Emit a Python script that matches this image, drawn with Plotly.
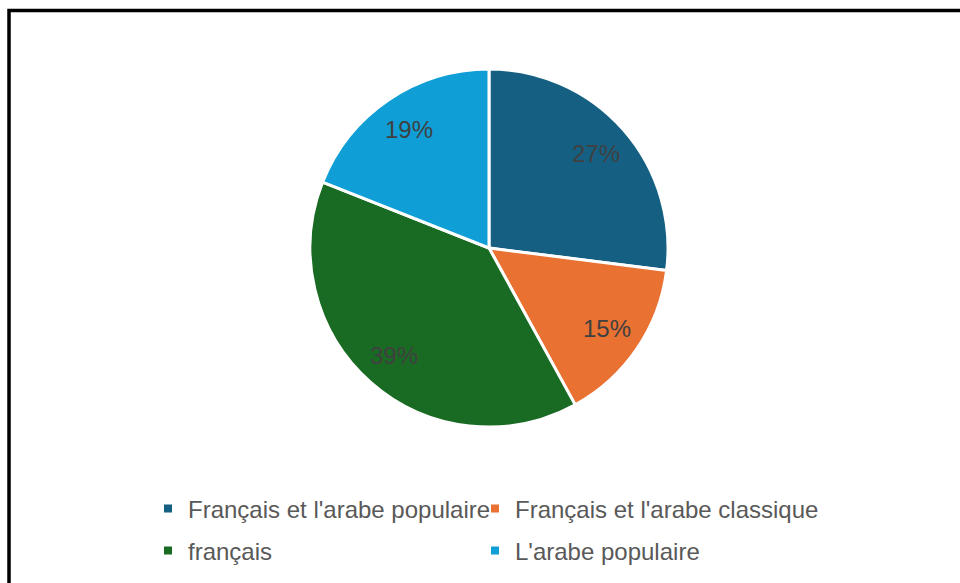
import math
import plotly.graph_objects as go

categories = ["Français et l'arabe populaire", "Français et l'arabe classique", "français", "L'arabe populaire"]
values = [27, 15, 39, 19]
colors = ["#156082", "#E97132", "#196B24", "#0F9ED5"]

W, H = 960, 583
cx, cy, r = 489, 248, 179
label_frac = 0.8
FONT = "Liberation Sans, Arial"

fig = go.Figure()
fig.add_trace(go.Pie(
    labels=categories, values=values, sort=False, direction="clockwise", rotation=0,
    marker=dict(colors=colors, line=dict(color="white", width=3)),
    textinfo="none", showlegend=False, hoverinfo="label+percent",
    domain=dict(x=[(cx - r) / W, (cx + r) / W], y=[1 - (cy + r) / H, 1 - (cy - r) / H]),
))

# Percentage labels placed along each slice's bisector (Excel-style)
total = sum(values)
annotations = []
cum = 0
for v in values:
    mid = (cum + v / 2) / total * 2 * math.pi
    cum += v
    px = cx + label_frac * r * math.sin(mid)
    py = cy - label_frac * r * math.cos(mid)
    annotations.append(dict(
        x=px / W, y=1 - py / H, xref="paper", yref="paper", showarrow=False,
        text=f"{round(v / total * 100)}%", xanchor="center", yanchor="middle",
        font=dict(family=FONT, size=24, color="#404040"),
    ))

# Legend: 2 columns x 2 rows, one legend per entry for exact placement
col_text_x = [188, 515]
row_y = [509, 551]
legend_layout = {}
for i, (name, col) in enumerate(zip(categories, colors)):
    lid = "legend" if i == 0 else f"legend{i + 1}"
    fig.add_trace(go.Scatter(
        x=[None], y=[None], mode="markers", name=name, legend=lid,
        marker=dict(symbol="square", size=8, color=col),
    ))
    legend_layout[lid] = dict(
        orientation="h", xanchor="left", yanchor="middle",
        x=(col_text_x[i % 2] - 40) / W, y=1 - row_y[i // 2] / H,
        font=dict(family=FONT, size=24, color="#595959"),
        bgcolor="rgba(0,0,0,0)",
    )

fig.update_layout(
    width=W, height=H,
    margin=dict(l=0, r=0, t=0, b=0),
    paper_bgcolor="white", plot_bgcolor="white",
    xaxis=dict(visible=False), yaxis=dict(visible=False),
    annotations=annotations,
    shapes=[dict(type="rect", xref="paper", yref="paper",
                 x0=9 / W, x1=1.05, y0=-0.05, y1=1 - 10.5 / H,
                 line=dict(color="black", width=3.5))],
    **legend_layout,
)

fig.write_html("out.html", config={"displayModeBar": False},
               post_script="document.body.style.margin='0';")
